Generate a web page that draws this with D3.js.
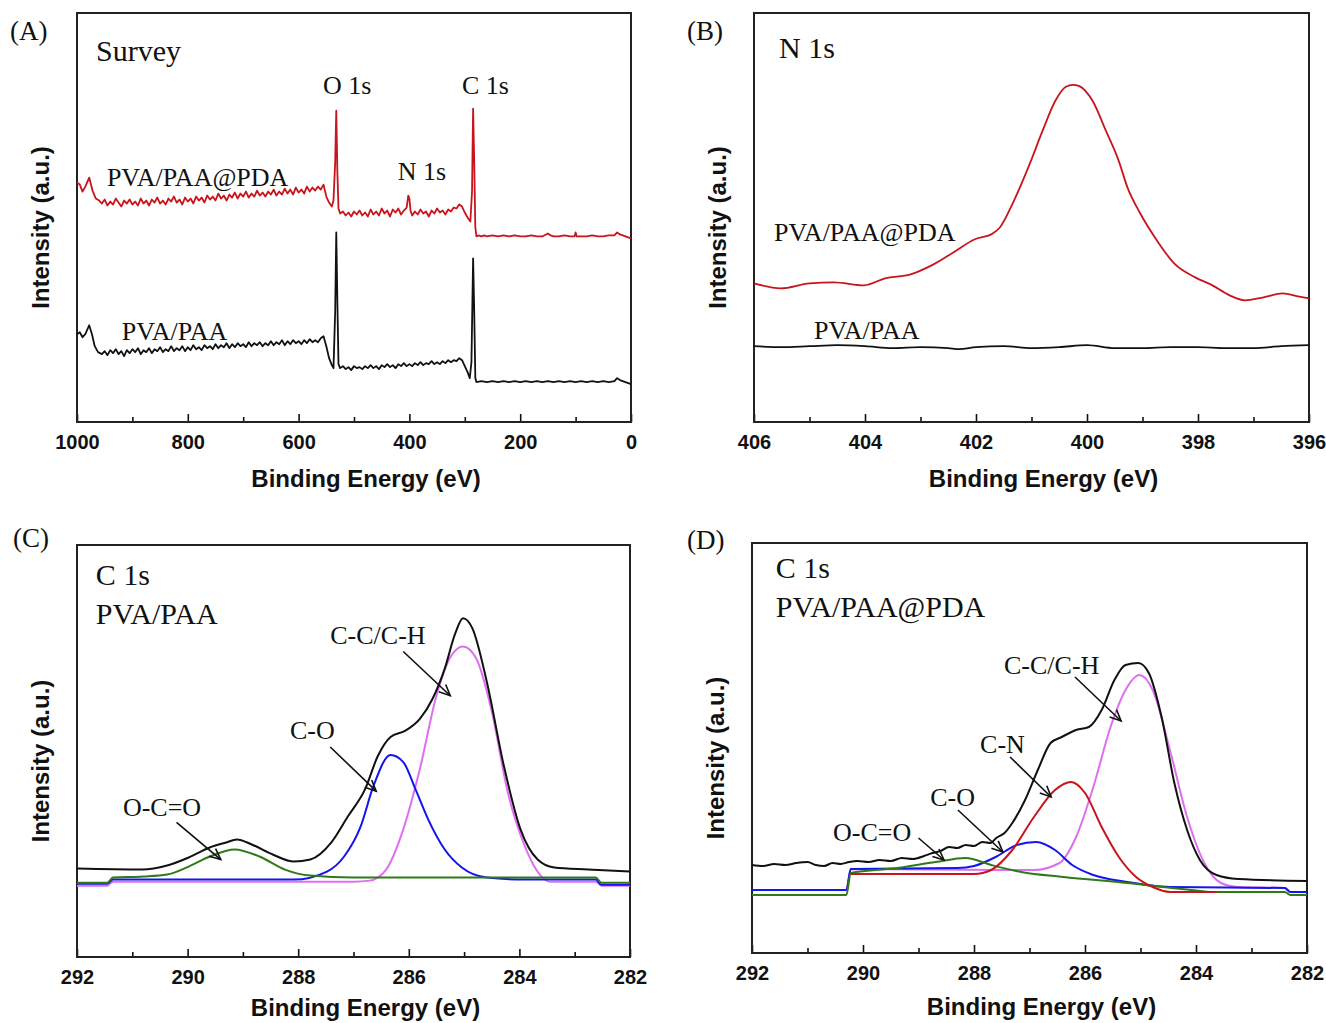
<!DOCTYPE html>
<html>
<head>
<meta charset="utf-8">
<script src="https://cdn.jsdelivr.net/npm/d3@7"></script>
<style>
  body { margin: 0; background: #fff; }
  svg text { fill: #111; }
  .serif { font-family: "Liberation Serif", "Times New Roman", serif; }
  .sans { font-family: "Liberation Sans", Arial, sans-serif; font-weight: bold; }
</style>
</head>
<body>
<svg id="fig" width="1326" height="1023"></svg>
<script>

/* XPS spectra, 4 panels (A) survey, (B) N 1s, (C) C 1s PVA/PAA, (D) C 1s PVA/PAA@PDA */

// ---- data: [binding energy (eV), intensity (a.u.)] ----

// (A) survey
const surveyPDA = [[1000,240],[995,238],[990,231],[985,236],[978,245],[972,232],[966,224],[960,222],[955,219],[950,223],[945,217],[940,221],[935,218],[930,224],[925,220],[920,216],[915,222],[910,219],[905,223],[900,218],[895,221],[890,217],[885,224],[880,219],[875,222],[870,217],[865,223],[860,220],[855,225],[850,219],[845,222],[840,218],[835,224],[830,221],[825,226],[820,220],[815,223],[810,218],[805,225],[800,221],[795,224],[790,219],[785,226],[780,222],[775,225],[770,220],[765,227],[760,223],[755,226],[750,222],[745,229],[740,224],[735,227],[730,222],[725,228],[720,225],[715,230],[710,224],[705,229],[700,226],[695,231],[690,225],[685,229],[680,226],[675,232],[670,227],[665,230],[660,226],[655,231],[650,228],[645,233],[640,227],[635,231],[630,228],[625,234],[620,229],[615,233],[610,228],[605,235],[600,230],[595,233],[590,229],[585,236],[580,231],[575,235],[570,232],[565,236],[560,233],[555,238],[550,226],[545,220],[540,216],[537,222],[534,260],[532,312],[530,250],[528,214],[525,209],[520,211],[515,207],[510,210],[505,206],[500,211],[495,208],[490,212],[485,207],[480,210],[475,206],[470,213],[465,208],[460,211],[455,207],[450,214],[445,209],[440,212],[435,206],[430,213],[425,210],[420,214],[415,208],[410,212],[405,215],[402,227],[400,224],[398,212],[395,207],[390,211],[385,208],[380,213],[375,209],[370,211],[365,206],[360,212],[355,209],[350,214],[345,210],[340,212],[335,208],[330,213],[325,211],[320,215],[315,214],[310,218],[305,216],[300,210],[295,205],[290,201],[287,230],[285,314],[283,260],[281,195],[279,186],[275,187],[270,186],[265,187],[260,186],[250,187],[240,186],[230,187],[220,186],[210,187],[200,186],[190,186],[180,187],[170,186],[160,186],[150,189],[145,187],[140,186],[130,186],[120,187],[110,186],[102,186],[100,190],[98,186],[90,186],[80,186],[70,187],[60,186],[50,186],[40,187],[30,187],[25,190],[20,188],[10,186],[5,185],[0,184]];

const surveyPVA = [[1000,88],[995,90],[990,85],[985,88],[978,97],[973,88],[968,76],[962,70],[955,68],[950,71],[945,67],[940,72],[935,69],[930,73],[925,68],[920,71],[915,66],[910,72],[905,69],[900,73],[895,70],[890,74],[885,68],[880,72],[875,70],[870,74],[865,69],[860,73],[855,71],[850,75],[845,70],[840,73],[835,71],[830,76],[825,71],[820,74],[815,72],[810,76],[805,71],[800,75],[795,72],[790,77],[785,73],[780,75],[775,72],[770,77],[765,74],[760,76],[755,73],[750,78],[745,74],[740,77],[735,75],[730,79],[725,74],[720,78],[715,75],[710,79],[705,76],[700,78],[695,75],[690,80],[685,76],[680,79],[675,77],[670,80],[665,76],[660,79],[655,77],[650,81],[645,77],[640,80],[635,78],[630,82],[625,77],[620,81],[615,78],[610,82],[605,79],[600,81],[595,78],[590,82],[585,79],[580,83],[575,80],[570,82],[565,80],[560,84],[555,86],[550,76],[545,64],[540,57],[537,54],[534,110],[532,190],[530,120],[528,58],[525,54],[520,56],[515,53],[510,55],[505,52],[500,56],[495,54],[490,55],[485,53],[480,56],[475,54],[470,57],[465,54],[460,56],[455,53],[450,57],[445,55],[440,58],[435,55],[430,57],[425,54],[420,58],[415,56],[410,59],[405,56],[400,58],[395,56],[390,59],[385,57],[380,60],[375,57],[370,59],[365,58],[360,61],[355,58],[350,60],[345,58],[340,61],[335,59],[330,62],[325,60],[320,62],[315,61],[310,64],[305,62],[300,56],[295,50],[291,44],[288,60],[285,164],[283,110],[281,44],[279,40],[270,41],[260,40],[250,41],[240,40],[230,41],[220,40],[210,41],[200,40],[190,41],[180,40],[170,41],[160,40],[150,41],[140,40],[130,41],[120,40],[110,41],[100,40],[90,41],[80,40],[70,41],[60,40],[50,41],[40,40],[30,41],[25,44],[20,42],[10,40],[5,39],[0,38]];

// (B) N 1s
const n1sPDA = [[406,139],[405.52,134],[405.0,139],[404.56,140],[404.02,137],[403.64,144],[403.18,148],[402.8,157],[402.41,170],[402.03,183],[401.7,189],[401.57,195],[401.34,219],[401.03,259],[400.8,292],[400.57,322],[400.38,336],[400.25,338],[400.15,337],[399.9,322],[399.66,292],[399.43,262],[399.27,235],[399.04,209],[398.74,182],[398.43,159],[398.05,145],[397.74,137],[397.43,127],[397.16,122],[396.82,125],[396.47,129],[396.2,126],[396,124]];
const n1sPVA = [[406,76],[405.5,75],[405,76],[404.5,77],[404,76],[403.5,74],[403,75],[402.5,74],[402.3,73],[402,75],[401.5,76],[401,74],[400.5,75],[400,77],[399.5,74],[399,74],[398.5,75],[398,75],[397.5,74],[397,74],[396.5,76],[396,77]];

// (C) C 1s, PVA/PAA
const c1sPvaSum = [[292,88],[290.82,87],[290.37,91],[289.98,99],[289.6,109],[289.3,114],[289.11,117],[288.84,112],[288.46,102],[288.08,95],[287.78,97],[287.4,114],[287.1,140],[286.79,167],[286.56,200],[286.33,219],[286.07,225],[285.8,237],[285.57,257],[285.35,287],[285.16,322],[285.02,337],[284.85,327],[284.59,274],[284.28,190],[283.98,127],[283.67,97],[283.37,89],[282.76,87],[282,85]];
const c1sPvaOCO = [[292,74],[291.45,74],[291.35,79],[290.8,80],[290.37,82],[289.98,90],[289.6,100],[289.15,107],[288.7,100],[288.24,87],[287.78,81],[287.0,79],[286,79],[285,79],[284,79],[283,79],[282.62,79],[282.52,74],[282,74]];
const c1sPvaCO = [[292,73],[291.45,73],[291.35,77],[289,77],[288.08,77],[287.48,85],[287.17,100],[286.87,130],[286.64,170],[286.33,201],[286.1,194],[285.88,167],[285.65,137],[285.35,107],[285.04,89],[284.59,79],[283.9,77],[282.62,77],[282.52,72],[282,72]];
const c1sPvaCC = [[292,71],[291.45,71],[291.35,75],[287,75],[286.71,76],[286.41,87],[286.1,127],[285.8,187],[285.5,260],[285.23,300],[285.02,309],[284.78,297],[284.51,247],[284.21,164],[283.9,110],[283.6,80],[283.45,75],[282.62,75],[282.52,71],[282,71]];

// (D) C 1s, PVA/PAA@PDA
const c1sPdaSum = [[292,88],[291.8,87],[291.6,89],[291.4,88],[291.2,90],[291.0,91],[290.85,88],[290.7,87],[290.55,90],[290.4,89],[290.25,91],[290.1,92],[289.9,91],[289.7,93],[289.5,92],[289.3,95],[289.1,94],[288.9,97],[288.75,100],[288.6,102],[288.45,106],[288.3,105],[288.15,108],[288.0,107],[287.85,111],[287.7,110],[287.6,115],[287.45,120],[287.31,130],[287.08,153],[286.85,183],[286.62,210],[286.42,216],[286.16,223],[285.93,226],[285.7,243],[285.47,273],[285.27,288],[285.04,290],[284.85,280],[284.62,236],[284.39,170],[284.16,123],[283.93,93],[283.63,78],[283.24,74],[282,72]];
const c1sPdaOCO = [[292,58],[290.3,58],[290.22,80],[289.38,85],[288.69,91],[288.15,95],[287.69,88],[287.15,81],[286.39,76],[285.24,70],[284.09,63],[283.7,61],[282.4,61],[282.3,58],[282,58]];
const c1sPdaCO = [[292,63],[290.3,63],[290.22,84],[288.3,85],[288,87],[287.61,96],[287.23,108],[286.88,111],[286.54,103],[286.23,88],[285.85,78],[285.24,71],[284.47,66],[282.4,65],[282.3,61],[282,61]];
const c1sPdaCN = [[290.22,79],[288,79],[287.69,83],[287.31,103],[286.92,136],[286.54,163],[286.25,171],[286.0,160],[285.7,126],[285.39,96],[285.08,76],[284.78,66],[284.47,61],[283.63,61]];
const c1sPdaCC = [[292,63],[290.3,63],[290.22,84],[287.54,83],[286.92,83],[286.46,90],[286.16,116],[285.85,166],[285.54,226],[285.27,263],[285.02,278],[284.78,263],[284.47,203],[284.16,136],[283.85,90],[283.55,70],[283.24,66],[282.4,65],[282.3,61],[282,61]];

// tick values
const surveyTicks = [1000, 800, 600, 400, 200, 0];
const surveyMinor = [900, 700, 500, 300, 100];
const n1sTicks = [406, 404, 402, 400, 398, 396];
const n1sMinor = [405, 403, 401, 399, 397];
const c1sTicks = [292, 290, 288, 286, 284, 282];
const c1sMinor = [291, 289, 287, 285, 283];

// colours
const RED = "#c8141c", BLACK = "#111", BLUE = "#1414ee", PINK = "#de6ff0", GREEN = "#2e7a18";


const svg = d3.select("#fig");

// arrow head marker
svg.append("defs").append("marker")
    .attr("id", "arr")
    .attr("markerUnits", "userSpaceOnUse")
    .attr("markerWidth", 16).attr("markerHeight", 16)
    .attr("refX", 12).attr("refY", 6)
    .attr("orient", "auto")
  .append("path")
    .attr("d", "M1,1 L12,6 L1,11")
    .attr("fill", "none")
    .attr("stroke", BLACK)
    .attr("stroke-width", 1.6);


class SpecPanel {

    constructor(left, top, width, height, xDomain, ticks, minor, titleGap){

        this.w = width;
        this.h = height;
        this.sx = d3.scaleLinear(xDomain, [0, width]);
        this.sy = d3.scaleLinear([0, 410], [height, 0]);   // intensity, a.u.

        this.g = svg.append("g").attr("transform", `translate(${left},${top})`);

        // minor ticks (inside, no label)
        this.g.append("g")
            .attr("transform", `translate(0,${height})`)
            .call(d3.axisBottom(this.sx).tickValues(minor).tickSize(-5).tickFormat(""))
            .call(a => a.select(".domain").remove())
            .selectAll("line").attr("stroke", BLACK).attr("stroke-width", 1.6);

        // major ticks
        let ax = this.g.append("g")
            .attr("transform", `translate(0,${height})`)
            .call(d3.axisBottom(this.sx).tickValues(ticks).tickSizeInner(-8).tickSizeOuter(0)
                .tickPadding(13).tickFormat(d3.format("d")));
        ax.select(".domain").remove();
        ax.selectAll("line").attr("stroke", BLACK).attr("stroke-width", 1.6);
        ax.selectAll("text")
            .attr("class", "sans")
            .attr("font-size", 20)
            .attr("fill", BLACK);

        // frame
        this.g.append("rect")
            .attr("width", width).attr("height", height)
            .attr("fill", "none")
            .attr("stroke", "#222")
            .attr("stroke-width", 2);

        // axis titles
        this.g.append("text")
            .attr("class", "sans")
            .attr("font-size", 24)
            .attr("text-anchor", "middle")
            .attr("x", width / 2 + 12)
            .attr("y", height + titleGap)
            .text("Binding Energy (eV)");

        this.g.append("text")
            .attr("class", "sans")
            .attr("font-size", 24)
            .attr("text-anchor", "middle")
            .attr("transform", `translate(-28,${height / 2 + 10}) rotate(-90)`)
            .text("Intensity (a.u.)");
    }

    // draw one spectrum
    line(data, colour, sw, curve){
        let gen = d3.line()
            .x(d => this.sx(d[0]))
            .y(d => this.sy(d[1]))
            .curve(curve || d3.curveMonotoneX);
        this.g.append("path")
            .datum(data)
            .attr("d", gen)
            .attr("fill", "none")
            .attr("stroke", colour)
            .attr("stroke-width", sw)
            .attr("stroke-linejoin", "round");
    }

    // serif label at data position
    note(txt, ev, val, size){
        this.g.append("text")
            .attr("class", "serif")
            .attr("font-size", size || 26)
            .attr("x", this.sx(ev))
            .attr("y", this.sy(val))
            .text(txt);
    }

    // annotation arrow between two data points
    arrow(p0, p1){
        this.g.append("line")
            .attr("x1", this.sx(p0[0])).attr("y1", this.sy(p0[1]))
            .attr("x2", this.sx(p1[0])).attr("y2", this.sy(p1[1]))
            .attr("stroke", BLACK)
            .attr("stroke-width", 1.6)
            .attr("marker-end", "url(#arr)");
    }

    // panel tag (A), (B)...
    tag(txt, dx, dy){
        this.g.append("text")
            .attr("class", "serif")
            .attr("font-size", 27)
            .attr("x", dx)
            .attr("y", dy)
            .text(txt);
    }
}


// (A) survey
const pA = new SpecPanel(77, 13, 554, 409, [1000, 0], surveyTicks, surveyMinor, 65);
pA.line(surveyPDA, RED, 1.8, d3.curveLinear);
pA.line(surveyPVA, BLACK, 1.8, d3.curveLinear);
pA.tag("(A)", -67, 27);
pA.note("Survey", 965.7, 362, 30);
pA.note("O 1s", 556, 329);
pA.note("C 1s", 305, 329);
pA.note("N 1s", 421, 243);
pA.note("PVA/PAA@PDA", 946, 237);
pA.note("PVA/PAA", 919, 82);

// (B) N 1s
const pB = new SpecPanel(754, 13, 555, 409, [406, 396], n1sTicks, n1sMinor, 65);
pB.line(n1sPDA, RED, 1.8);
pB.line(n1sPVA, BLACK, 1.8);
pB.tag("(B)", -67, 27);
pB.note("N 1s", 405.55, 365, 30);
pB.note("PVA/PAA@PDA", 405.64, 181);
pB.note("PVA/PAA", 404.92, 83);

// (C) C 1s PVA/PAA
const pC = new SpecPanel(77, 545, 553, 412, [292, 282], c1sTicks, c1sMinor, 59);
pC.line(c1sPvaCC, PINK, 2);
pC.line(c1sPvaCO, BLUE, 2);
pC.line(c1sPvaOCO, GREEN, 2);
pC.line(c1sPvaSum, BLACK, 2);
pC.tag("(C)", -64, 2);
pC.note("C 1s", 291.66, 370, 30);
pC.note("PVA/PAA", 291.66, 331, 30);
pC.note("O-C=O", 291.17, 140);
pC.arrow([290.2, 134], [289.4, 97]);
pC.note("C-O", 288.15, 217);
pC.arrow([287.42, 209], [286.59, 165]);
pC.note("C-C/C-H", 287.42, 311);
pC.arrow([286.1, 304], [285.25, 260]);

// (D) C 1s PVA/PAA@PDA
const pD = new SpecPanel(752, 543, 555, 410, [292, 282], c1sTicks, c1sMinor, 62);
pD.line(c1sPdaCC, PINK, 2);
pD.line(c1sPdaCO, BLUE, 2);
pD.line(c1sPdaOCO, GREEN, 2);
pD.line(c1sPdaCN, RED, 2);
pD.line(c1sPdaSum, BLACK, 2);
pD.tag("(D)", -65, 6);
pD.note("C 1s", 291.57, 375, 30);
pD.note("PVA/PAA@PDA", 291.57, 336, 30);
pD.note("C-C/C-H", 287.46, 279);
pD.arrow([286.18, 276], [285.35, 232]);
pD.note("C-N", 287.89, 200);
pD.arrow([287.35, 196], [286.61, 156]);
pD.note("C-O", 288.79, 147);
pD.arrow([288.29, 143], [287.48, 101]);
pD.note("O-C=O", 290.54, 112);
pD.arrow([289.0, 115], [288.54, 93]);

</script>
</body>
</html>
